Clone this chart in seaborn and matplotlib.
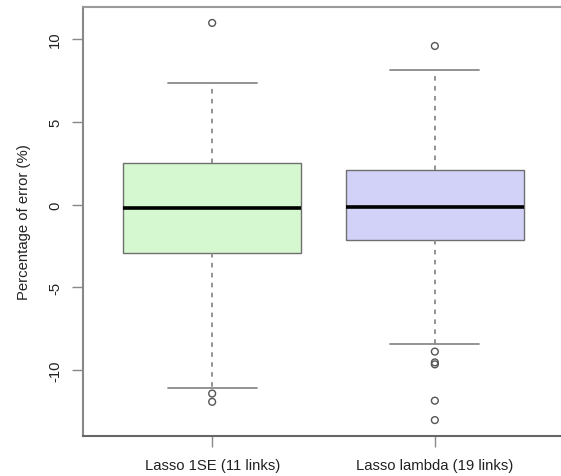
import numpy as np
import matplotlib
matplotlib.use("Agg")
import matplotlib.pyplot as plt
import seaborn as sns
import pandas as pd

# Box summary values
groups = ["Lasso 1SE (11 links)", "Lasso lambda (19 links)"]
whisker_low = [-11.08, -8.41]
q1 = [-2.95, -2.15]
medians = [-0.22, -0.14]
q3 = [2.53, 2.07]
whisker_high = [7.35, 8.09]
box_colors = ["#d6f8d0", "#d2d2f8"]

# Outliers
out_group = [1, 1, 1, 2, 2, 2, 2, 2, 2]
out_value = [10.95, -11.4, -11.9, 9.56, -8.87, -9.52, -9.64, -11.83, -13.0]

yticks = [-10, -5, 0, 5, 10]

sns.set_style("white")
plt.rcParams["font.family"] = ["Liberation Sans", "DejaVu Sans"]

fig = plt.figure(figsize=(5.61, 4.77), dpi=100)
ax = fig.add_axes([83 / 561, 1 - 437 / 477, 481 / 561, 429 / 477])

stats = []
for i in range(len(groups)):
    stats.append({
        "whislo": whisker_low[i], "q1": q1[i], "med": medians[i],
        "q3": q3[i], "whishi": whisker_high[i], "fliers": [],
    })

bp = ax.bxp(
    stats, positions=[1, 2], widths=0.8, patch_artist=True, showfliers=False,
    boxprops=dict(edgecolor="#6f6f6f", linewidth=1.0),
    whiskerprops=dict(color="#8a8a8a", linewidth=1.3, linestyle=(0, (2.5, 3))),
    capprops=dict(color="#8a8a8a", linewidth=1.3),
    medianprops=dict(color="black", linewidth=2.6, solid_capstyle="butt"),
)
for patch, c in zip(bp["boxes"], box_colors):
    patch.set_facecolor(c)
for cap in bp["caps"]:
    mid = cap.get_xdata().mean()
    cap.set_xdata([mid - 0.2, mid + 0.2])

outliers = pd.DataFrame({"group": out_group, "value": out_value})
sns.scatterplot(data=outliers, x="group", y="value", ax=ax, marker="o",
                s=24, facecolor="none", edgecolor="#555555", linewidth=1.0,
                zorder=5)

ax.set_xlim(0.42, 2.58)
ax.set_ylim(-13.96, 11.91)
ax.set_xticks([1, 2])
ax.set_xticklabels(groups, fontsize=10.7, color="#222222")
ax.set_yticks(yticks)
ax.set_yticklabels([str(t) for t in yticks], fontsize=10.7, rotation=90,
                   va="center", color="#222222")
ax.tick_params(axis="both", direction="out", length=8, width=1.0,
               color="#888888", left=True, bottom=True)
ax.tick_params(axis="x", pad=7.5)
ax.tick_params(axis="y", pad=7)
ax.set_xlabel("")
ax.set_ylabel("Percentage of error (%)", fontsize=10.7, color="#222222",
              labelpad=12)

for side in ["left", "top", "bottom"]:
    ax.spines[side].set_visible(True)
    ax.spines[side].set_linewidth(1.5)
ax.spines["top"].set_color("#9a9a9a")
ax.spines["left"].set_color("#888888")
ax.spines["bottom"].set_color("#666666")
ax.spines["right"].set_visible(False)

fig.savefig("out.png", dpi=100)
